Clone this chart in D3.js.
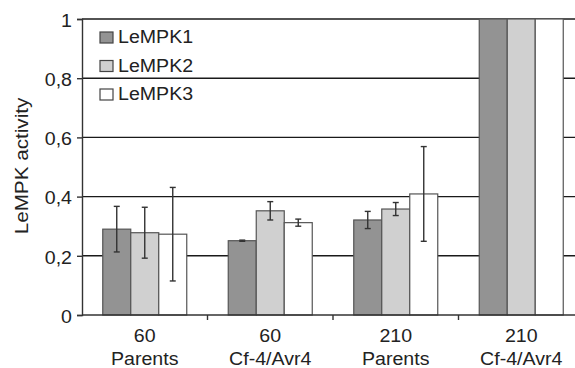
<!DOCTYPE html>
<html>
<head>
<meta charset="utf-8">
<script src="https://cdn.jsdelivr.net/npm/d3@7"></script>
<style>
  body { margin: 0; background: #fff; }
  text { font-family: "Liberation Sans", Arial, sans-serif; fill: #222; }
</style>
</head>
<body>
<script>
// dados
const grupos = ['60|Parents', '60|Cf-4/Avr4', '210|Parents', '210|Cf-4/Avr4']
const series = ['LeMPK1', 'LeMPK2', 'LeMPK3']
const cores = ['#939393', '#d0d0d0', '#ffffff']

const lempk1 = [0.29, 0.251, 0.321, 1]
const lempk2 = [0.278, 0.352, 0.358, 1]
const lempk3 = [0.273, 0.312, 0.409, 1]
// barras de erro (desvio)
const erro1 = [0.077, 0.002, 0.029, 0]
const erro2 = [0.086, 0.031, 0.022, 0]
const erro3 = [0.158, 0.012, 0.160, 0]

const yTicks = [0, 0.2, 0.4, 0.6, 0.8, 1]

const valores = [lempk1, lempk2, lempk3]
const erros = [erro1, erro2, erro3]

const margem = {topo: 19, direita: -9, base: 53, esquerda: 82}
const W = 575, H = 368
const largura = W - margem.esquerda - margem.direita
const altura = H - margem.topo - margem.base
const esticar = 1.12 // a fonte original é mais larga

const svg = d3.select('body').append('svg')
  .attr('width', W).attr('height', H)

const g = svg.append('g')
  .attr('transform', 'translate(' + margem.esquerda + ',' + margem.topo + ')')

const x = d3.scaleBand().domain(grupos).range([0, largura])
const xs = d3.scaleBand().domain(series)
  .range([x.bandwidth() / 2 - 42, x.bandwidth() / 2 + 42])
const y = d3.scaleLinear().domain([0, 1]).range([altura, 0])

// linhas de grade
g.append('g').selectAll('line')
  .data(yTicks.filter(d => d > 0))
  .join('line')
    .attr('x1', 0).attr('x2', largura)
    .attr('y1', d => y(d)).attr('y2', d => y(d))
    .attr('stroke', '#1a1a1a').attr('stroke-width', 1.4)

// barras
const grupo = g.append('g').selectAll('g')
  .data(grupos)
  .join('g')
    .attr('transform', d => 'translate(' + x(d) + ',0)')

grupo.selectAll('rect')
  .data((d, i) => series.map((s, j) => ({s: s, j: j, v: valores[j][i], e: erros[j][i]})))
  .join('rect')
    .attr('x', d => xs(d.s))
    .attr('width', xs.bandwidth())
    .attr('y', d => y(d.v))
    .attr('height', d => altura - y(d.v))
    .attr('fill', d => cores[d.j])
    .attr('stroke', '#555').attr('stroke-width', 1.2)

// barras de erro
const eb = grupo.selectAll('g.erro')
  .data((d, i) => series.map((s, j) => ({s: s, v: valores[j][i], e: erros[j][i]})).filter(d => d.e > 0))
  .join('g').attr('class', 'erro')
eb.append('line')
  .attr('x1', d => xs(d.s) + xs.bandwidth() / 2)
  .attr('x2', d => xs(d.s) + xs.bandwidth() / 2)
  .attr('y1', d => y(d.v + d.e)).attr('y2', d => y(d.v - d.e))
  .attr('stroke', '#333').attr('stroke-width', 1.4)
eb.selectAll('line.cap')
  .data(d => [d.v + d.e, d.v - d.e].map(v => ({s: d.s, v: v})))
  .join('line').attr('class', 'cap')
    .attr('x1', d => xs(d.s) + xs.bandwidth() / 2 - 3)
    .attr('x2', d => xs(d.s) + xs.bandwidth() / 2 + 3)
    .attr('y1', d => y(d.v)).attr('y2', d => y(d.v))
    .attr('stroke', '#333').attr('stroke-width', 1.4)

// eixos
const eixoY = d3.axisLeft(y).tickValues(yTicks)
  .tickFormat(d => d3.format('.1f')(d).replace('.', ',').replace(/^0,0$/, '0').replace(/^1,0$/, '1'))
  .tickSize(5).tickPadding(5)
const gy = g.append('g').call(eixoY)
gy.select('.domain').attr('stroke', '#333').attr('stroke-width', 1.4)
gy.selectAll('.tick line').attr('stroke', '#333').attr('stroke-width', 1.4)
gy.selectAll('.tick text')
  .attr('x', 0).attr('dy', '0.42em')
  .attr('transform', 'translate(-10,0) scale(' + esticar + ',1)')
  .attr('font-size', 17.5).attr('fill', '#222')

const gx = g.append('g').attr('transform', 'translate(0,' + altura + ')')
gx.append('line').attr('x1', 0).attr('x2', largura)
  .attr('stroke', '#333').attr('stroke-width', 1.4)
gx.selectAll('line.tk')
  .data(grupos.slice(1))
  .join('line').attr('class', 'tk')
    .attr('x1', d => x(d)).attr('x2', d => x(d))
    .attr('y1', 0).attr('y2', 5)
    .attr('stroke', '#333').attr('stroke-width', 1.4)
const rot = gx.selectAll('text')
  .data(grupos)
  .join('text')
    .attr('text-anchor', 'middle')
    .attr('font-size', 17.5)
    .attr('transform', d => 'translate(' + (x(d) + x.bandwidth() / 2) + ',0) scale(' + esticar + ',1)')
rot.append('tspan').attr('x', 0).attr('y', 27).text(d => d.split('|')[0])
rot.append('tspan').attr('x', 0).attr('y', 50).text(d => d.split('|')[1])

// titulo do eixo y
svg.append('text')
  .attr('transform', 'translate(28,166) rotate(-90) scale(1.15,1)')
  .attr('text-anchor', 'middle')
  .attr('font-size', 18)
  .text('LeMPK activity')

// legenda
const leg = svg.append('g').attr('transform', 'translate(100,32)')
const item = leg.selectAll('g')
  .data(series)
  .join('g')
    .attr('transform', (d, i) => 'translate(0,' + (i * 28.5) + ')')
item.append('rect')
  .attr('width', 13).attr('height', 11)
  .attr('fill', (d, i) => cores[i])
  .attr('stroke', '#444').attr('stroke-width', 1.2)
item.append('text')
  .attr('transform', 'translate(18,11) scale(' + esticar + ',1)')
  .attr('font-size', 17.5)
  .text(d => d)
</script>
</body>
</html>
